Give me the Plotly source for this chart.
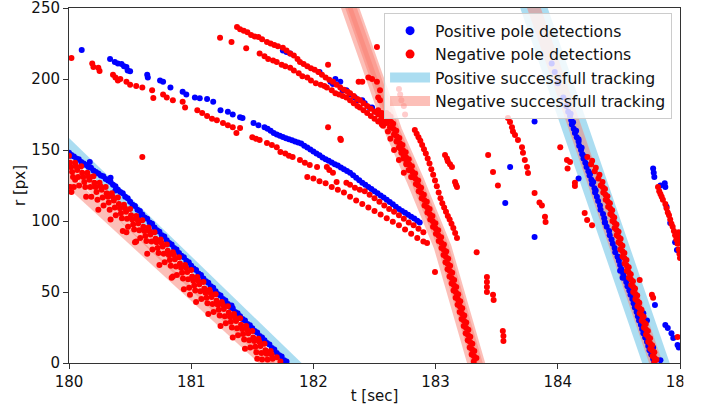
import plotly.graph_objects as go

# ---------------- data (t [sec], r [px]) ----------------
pos_left_track = [
    (180.00,148),(180.02,146.5),(180.04,145.5),(180.06,144),(180.08,143.5),(180.10,141.5),(180.12,140.5),
    (180.14,139.5),(180.16,138),(180.18,137.5),(180.20,135.5),(180.22,134.5),(180.24,133.5),(180.26,132),
    (180.28,131.5),(180.30,129.5),(180.32,128.5),(180.34,127.5),(180.36,125.5),(180.38,124.5),(180.40,122),
    (180.42,120.5),(180.44,119.5),(180.46,117),(180.48,116),(180.50,113.5),(180.52,111.5),(180.54,110.5),
    (180.56,108),(180.58,107),(180.60,104.5),(180.62,102.5),(180.64,101.5),(180.66,99),(180.68,98),
    (180.70,95.5),(180.72,93.5),(180.74,92.5),(180.76,90),(180.78,89),(180.80,86.5),(180.82,84.5),
    (180.84,83.5),(180.86,81),(180.88,80),(180.90,77.5),(180.92,75.5),(180.94,74.5),(180.96,72),(180.98,71),
    (181.00,68.5),(181.02,66.5),(181.04,65.5),(181.06,63),(181.08,62),(181.10,59.5),(181.12,57.5),
    (181.14,56.5),(181.16,54),(181.18,53),(181.20,50.5),(181.22,48.5),(181.24,47.5),(181.26,45),(181.28,44),
    (181.30,41.5),(181.32,39.5),(181.34,38.5),(181.36,36),(181.38,35),(181.40,33),(181.42,31),(181.44,30),
    (181.46,27.5),(181.48,26.5),(181.50,24.5),(181.52,22.5),(181.54,21.5),(181.56,19),(181.58,18),
    (181.60,16),(181.62,14),(181.64,13),(181.66,10.5),(181.68,9.5),(181.70,7),(181.72,5.5),(181.74,4.5),
    (181.76,2),(181.78,1),
    (180.17,141.5),(180.34,130.5),(180.38,121.5),(180.57,103),(180.01,146),(181.33,40.5),(180.104,220.4),
]
pos_mid_arc = [
    (180.336,214),(180.375,212),(180.40,211),(180.43,210.5),(180.45,209),(180.47,208.5),(180.48,206),
    (180.50,205.5),(180.64,203),(180.645,201),(180.745,199),(180.77,198),(180.83,194),(180.93,191),
    (180.96,189),(181.03,187),(181.07,186.5),(181.13,186),(181.18,184),(181.24,178),(181.30,177),
    (181.34,175),(181.40,173),(181.42,172.5),(181.51,169),(181.55,167.5),
    (181.600,166),(181.625,165),(181.650,163.5),(181.675,162),(181.700,161),(181.725,160),(181.750,159.2),
    (181.775,158.3),(181.800,157.5),(181.825,156.8),(181.850,156),(181.875,155.3),(181.900,154.5),
    (181.925,153),(181.950,151.8),(181.975,150.3),(182.000,149),(182.025,147.6),(182.050,146.3),
    (182.075,144.8),(182.100,143.5),(182.125,142.4),(182.150,141.2),(182.175,140),(182.200,139),
    (182.225,137.7),(182.250,136.5),(182.275,135.2),(182.300,134),(182.325,132.2),(182.350,130.5),
    (182.375,128.7),(182.400,127),(182.425,125.5),(182.450,124),(182.475,122.5),(182.500,121),
    (182.525,119.5),(182.550,118),(182.575,116.5),(182.600,115),(182.625,113.4),(182.650,111.8),
    (182.675,110.1),(182.700,108.5),(182.725,107.1),(182.750,105.8),(182.775,104.4),(182.800,103),
    (182.825,101.8),(182.850,100.2),(182.870,99),
]
pos_upper_arc = [
    (181.75,220),(181.78,219),(181.81,218),(182.05,205),(182.14,198),(182.16,196.5),(182.18,200),
    (182.22,198),(182.24,192),(182.27,192),(182.30,189),(182.34,187),(182.36,185),(182.40,185),
    (182.42,183),(182.46,180),(182.48,180),(182.51,177),
]
pos_right_track = [
    (183.95,211),(183.975,205),(184.00,197),(184.045,187),(184.07,181),(184.085,177),(184.10,174),
    (184.11,171),(184.115,168),(184.13,165),(184.14,162),(184.155,159),(184.17,156),(184.175,153),
    (184.19,150),(184.20,147),(184.21,144),(184.225,141),(184.235,138),(184.25,135),(184.26,132),
    (184.275,129),(184.28,126),(184.30,123),(184.305,120),(184.32,117),(184.33,114),(184.345,111),
    (184.35,108),(184.37,105),(184.38,102),(184.385,99),(184.40,96),(184.42,93),(184.425,90),(184.44,87),
    (184.45,84),(184.465,81),(184.47,78),(184.49,75),(184.50,72),(184.51,69),(184.52,66),(184.535,63),
    (184.545,60),(184.56,57),(184.57,54),(184.585,51),(184.595,48),(184.61,45),(184.62,42),(184.63,39),
    (184.645,36),(184.655,33),(184.665,30),(184.68,27),(184.69,24),(184.70,21),(184.715,18),(184.73,15),
    (184.74,12),(184.75,9),(184.765,6),(184.78,3),(184.79,1),
    (184.105,175.5),(184.125,169.5),(184.15,163.5),(184.17,157.5),(184.195,151.5),(184.22,145.5),
    (184.24,139.5),(184.265,133.5),(184.29,127.5),(184.31,121.5),
    (184.386,99),(184.49,74.6),(184.51,65),(184.53,60),(184.70,35),(184.73,30),(184.78,11),(184.84,2),
]
pos_scattered = [
    (183.81,170),(183.61,138),(183.57,112.7),(183.81,88.7),(184.17,130),
    (184.78,137),(184.785,134),(184.79,131),(184.84,125),(184.875,126.5),(184.88,124),(184.89,110),
    (184.92,98.6),(184.96,85),(184.975,79.6),(184.795,40.8),(184.88,26.8),(184.90,24.6),(184.93,21),
    (184.945,17.6),(184.99,11),(184.98,12.7),
]

neg_left_track = [
    (180.00,146),(180.05,141),(180.10,138.5),(180.15,134),(180.20,131.5),(180.25,127),(180.30,124),
    (180.35,119.5),(180.40,116.5),(180.45,111.5),(180.50,108.5),(180.55,103.5),(180.60,100.5),(180.65,95.5),
    (180.70,92),(180.75,87),(180.80,83.5),(180.85,78),(180.90,74.5),(180.95,69),(181.00,65.5),(181.05,60.5),
    (181.10,57),(181.15,51.5),(181.20,48.5),(181.25,43),(181.30,40),(181.35,34.5),(181.40,31.5),(181.45,26),
    (181.50,22.5),(181.55,17),(181.60,13.5),(181.65,8.5),(181.70,4),(181.73,1),
    (180.017,138),(180.067,136),(180.117,131),(180.167,129),(180.217,124),(180.267,122),(180.317,117),
    (180.367,114.5),(180.417,109),(180.467,106.5),(180.517,101),(180.567,98.5),(180.617,93),(180.667,90.5),
    (180.717,85),(180.767,82),(180.817,76),(180.867,73),(180.917,67),(180.967,64),(181.017,58),(181.067,55.5),
    (181.117,49.5),(181.167,46.5),(181.217,41),(181.267,38),(181.317,32.5),(181.367,29.5),(181.417,24),
    (181.467,21),(181.517,15.5),(181.567,12),(181.617,6.5),(181.667,3),
    (180.033,131),(180.083,125),(180.133,124),(180.183,117),(180.233,115),(180.283,111),(180.333,108),
    (180.383,104),(180.433,102),(180.483,96),(180.533,94),(180.583,88),(180.633,86),(180.683,80),
    (180.733,77.5),(180.783,71),(180.833,68.5),(180.883,62),(180.933,59.5),(180.983,53),(181.033,51),
    (181.083,45),(181.133,42),(181.183,36),(181.233,33.5),(181.283,28),(181.333,25),(181.383,19.5),
    (181.433,16.5),(181.483,11),(181.533,7.5),(181.58,2.5),
    (180.008,141),(180.058,138.5),(180.108,134),(180.158,131.5),(180.208,127),(180.258,124.5),(180.308,119.5),
    (180.358,117),(180.408,112),(180.458,109),(180.508,104),(180.558,101),(180.608,96),(180.658,93),
    (180.708,87.5),(180.758,84.5),(180.808,79),(180.858,76),(180.908,70),(180.958,67),(181.008,61),
    (181.058,58),(181.108,52.5),(181.158,49.5),(181.208,44),(181.258,41),(181.308,35.5),(181.358,32),
    (181.408,27),(181.458,23.5),(181.508,18),(181.558,15),(181.608,9),(181.658,6),
    (180.025,134.5),(180.075,131),(180.125,127.5),(180.175,124),(180.225,120.5),(180.275,116.5),
    (180.325,113),(180.375,109.5),(180.425,105.5),(180.475,101.5),(180.525,97.5),(180.575,93.5),
    (180.625,89.5),(180.675,85.5),(180.725,81),(180.775,77),(180.825,72.5),(180.875,68),(180.925,63.5),
    (180.975,59),(181.025,54.5),(181.075,50.5),(181.125,46),(181.175,41.5),(181.225,37.5),(181.275,33),
    (181.325,29),(181.375,24.5),(181.425,20.5),(181.475,16),(181.525,11.5),(181.575,7),(181.625,2.5),
    (180.04,124),(180.14,117),(180.24,108),(180.34,101),(180.44,93),(180.54,85),(180.64,77),(180.74,69),
    (180.84,60),(180.94,52),(181.04,43),(181.14,34.5),(181.24,26),(181.34,18),(181.44,10),(181.54,3),
    (180.01,124),(180.02,120.5),(180.05,129),(180.47,92),(180.55,85.5),(180.85,61),(180.99,48),
    (180.02,214.8),(180.60,145),
]
neg_upper_arcs = [
    (181.375,236.6),(181.40,235),(181.43,234),(181.46,233),(181.49,231),(181.52,230),(181.55,229.5),
    (181.58,228),(181.62,226),(181.65,225),(181.68,224),(181.71,223),(181.75,222),(181.78,220),(181.81,218),
    (181.84,216.5),(181.87,214),(181.89,212),(181.92,210.5),(181.95,209),(181.98,207.5),(182.01,206.5),
    (182.04,205),(182.07,203),(182.10,201),(182.13,199.5),(182.16,198),(182.19,196),(182.22,194),
    (182.25,192.5),(182.28,191),(182.30,190),(182.33,188),(182.36,186),(182.38,185),(182.41,183),
    (182.44,181),(182.47,179),(182.50,177),(182.53,175),(182.56,173),(182.59,171),
    (181.56,218),(181.60,216),(181.63,214),(181.67,213),(181.70,212),(181.74,210),(181.77,209),(181.81,208),
    (181.84,206),(181.88,204),(181.91,202),(181.95,201),(181.98,199),(182.02,197),(182.06,196),(182.09,195),
    (182.11,194),(182.15,192),(182.18,190),(182.21,189),(182.24,188),(182.27,187),(182.30,185),(182.33,183),
    (182.36,181),(182.38,180),(182.41,178),(182.44,176),(182.47,174),(182.50,172),(182.53,170),(182.56,168),
    (181.236,229),(181.33,226),(181.45,221.6),(182.12,210),(182.37,198),(182.40,198),(182.52,222.5),
    (182.45,201),(182.48,200),(182.52,198),(182.545,192),(182.53,187),(182.545,185),
    (182.70,193),(182.71,189),(182.72,185),(182.74,181),(182.75,175),
]
neg_mid_arcs = [
    (180.19,211),(180.20,208.5),(180.24,208),(180.25,205.6),(180.36,203),(180.38,201),(180.40,199),
    (180.42,200),(180.47,198),(180.50,196),(180.55,195),(180.60,194),(180.68,192),(180.69,186.6),
    (180.77,189),(180.80,187),(180.85,185),(180.93,184),(180.95,180),(181.05,178),(181.09,176),(181.13,174),
    (181.17,172),(181.21,171),(181.26,169),(181.30,167.5),(181.34,166),(181.37,162),(181.40,165.5),
    (181.50,159),(181.53,158),(181.56,157),(181.62,155),(181.66,153.5),(181.70,152),(181.73,148.6),
    (181.77,147.5),(181.80,146),(181.83,145),(181.89,143),(181.93,141),(181.97,139.5),(182.03,138),
    (182.11,138),(182.13,136),(182.16,134),(182.19,127.5),(182.27,127),(182.30,125.5),(182.34,123.5),
    (182.38,122),(182.42,121),(182.46,118.5),(182.50,116),(182.54,113.5),(182.58,111),(182.62,108.5),
    (182.66,106.5),(182.70,104),(182.74,101.5),(182.78,99),(182.82,97),(182.86,94.5),(182.90,92),
    (181.95,131),(182.00,130),(182.05,128),(182.10,126.5),(182.15,124),(182.20,122),(182.25,120),
    (182.30,117),(182.35,114.5),(182.40,112),(182.45,109.5),(182.50,107),(182.55,104.5),(182.60,102),
    (182.65,99.5),(182.70,97),(182.75,94),(182.80,91),(182.85,88),(182.90,85.5),(182.93,84.5),
    (182.12,166),(182.22,158),(182.225,157),
]
neg_mid_track = [
    (182.598,176),(182.632,173.5),(182.619,171),(182.653,168.5),(182.627,166),(182.678,163.5),
    (182.663,161),(182.703,158.5),(182.686,156),(182.729,153.5),(182.712,151),(182.755,148.5),
    (182.738,146),(182.780,143.5),(182.763,141),(182.806,138.5),(182.789,136),(182.832,133.5),
    (182.815,131),(182.857,128.5),(182.839,126),(182.881,123.5),(182.862,121),(182.904,118.5),
    (182.886,116),(182.928,113.5),(182.909,111),(182.951,108.5),(182.933,106),(182.974,103.5),
    (182.956,101),(182.998,98.5),(182.979,96),(183.021,93.5),(183.003,91),(183.045,88.5),
    (183.026,86),(183.068,83.5),(183.048,81),(183.087,78.5),(183.065,76),(183.103,73.5),
    (183.081,71),(183.119,68.5),(183.098,66),(183.136,63.5),(183.114,61),(183.152,58.5),
    (183.131,56),(183.169,53.5),(183.147,51),(183.185,48.5),(183.164,46),(183.202,43.5),
    (183.180,41),(183.218,38.5),(183.197,36),(183.235,33.5),(183.213,31),(183.251,28.5),
    (183.230,26),(183.268,23.5),(183.246,21),(183.284,18.5),(183.263,16),(183.301,13.5),
    (183.279,11),(183.317,8.5),(183.295,6),(183.334,3.5),(183.312,1),
    (182.615,174.75),(182.636,169.75),(182.657,164.75),(182.682,159.75),(182.708,154.75),(182.733,149.75),
    (182.759,144.75),(182.785,139.75),(182.810,134.75),(182.836,129.75),(182.860,124.75),(182.883,119.75),
    (182.907,114.75),(182.930,109.75),(182.953,104.75),(182.977,99.75),(183.000,94.75),(183.024,89.75),
    (183.047,84.75),(183.067,79.75),(183.084,74.75),(183.100,69.75),(183.117,64.75),(183.133,59.75),
    (183.150,54.75),(183.166,49.75),(183.183,44.75),(183.199,39.75),(183.216,34.75),(183.232,29.75),
    (183.249,24.75),(183.265,19.75),(183.282,14.75),(183.298,9.75),(183.314,4.75),
    (182.53,178),(182.56,176),(182.58,174),(182.55,171),(182.60,169),(182.62,172),(182.57,167),
    (182.64,166),(182.61,163),(182.66,161),(182.63,158),(182.68,156),(182.70,152),(182.66,150),
    (182.72,148),(182.74,144),(182.70,143),(182.76,140),(182.78,136),(182.74,134),(182.80,131),
]
neg_streaks = [
    (182.83,164),(182.845,161.5),(182.86,159),(182.875,156.5),(182.89,153.5),(182.905,150.5),(182.92,147.5),
    (182.935,144),(182.95,140.5),(182.965,136.5),(182.98,132.5),(182.995,128.5),(183.01,124.5),(183.025,120),
    (183.04,116),(183.055,112.5),(183.07,109.5),(183.085,106.5),(183.10,103.5),(183.115,101),(183.13,98),
    (183.145,95),(183.16,91.5),(183.175,88),
    (183.077,146.5),(183.093,144),(183.10,142),(183.118,140),(183.134,138),(183.159,127.5),(183.167,125.5),
    (183.175,124),
    (183.592,172.5),(183.609,169.7),(183.625,166),(183.633,163),(183.65,160.6),(183.674,157),(183.707,152),
    (183.715,148),(183.73,143),(183.748,138),(183.756,133.8),
]
neg_right_track = [
    (184.242,145),(184.281,142.5),(184.272,140),(184.311,137.5),(184.302,135),(184.341,132.5),(184.332,130),
    (184.366,127.5),(184.352,125),(184.386,122.5),(184.372,120),(184.406,117.5),(184.392,115),(184.426,112.5),
    (184.412,110),(184.445,107.5),(184.430,105),(184.462,102.5),(184.447,100),(184.480,97.5),(184.465,95),
    (184.497,92.5),(184.482,90),(184.514,87.5),(184.497,85),(184.529,82.5),(184.512,80),(184.545,77.5),
    (184.530,75),(184.562,72.5),(184.547,70),(184.580,67.5),(184.565,65),(184.597,62.5),(184.582,60),
    (184.615,57.5),(184.600,55),(184.632,52.5),(184.617,50),(184.650,47.5),(184.635,45),(184.667,42.5),
    (184.652,40),(184.685,37.5),(184.670,35),(184.702,32.5),(184.687,30),(184.720,27.5),(184.705,25),
    (184.737,22.5),(184.722,20),(184.755,17.5),(184.740,15),(184.772,12.5),(184.757,10),(184.790,7.5),
    (184.775,5),(184.807,2.5),(184.790,0.5),
    (184.369,123.75),(184.389,118.75),(184.409,113.75),(184.429,108.75),(184.446,103.75),(184.464,98.75),
    (184.481,93.75),(184.498,88.75),(184.513,83.75),(184.529,78.75),(184.546,73.75),(184.563,68.75),
    (184.581,63.75),(184.598,58.75),(184.616,53.75),(184.633,48.75),(184.651,43.75),(184.668,38.75),
    (184.686,33.75),(184.703,28.75),(184.721,23.75),(184.738,18.75),(184.756,13.75),(184.773,8.75),
    (184.790,3.75),
]
neg_scattered = [
    (183.43,146.5),(183.47,134.5),(183.51,125),(183.81,119.7),(183.85,113),(183.87,111),(183.895,103),
    (183.90,99.3),(183.336,78),(182.995,64),(183.42,60.5),(183.42,57),(183.42,53.5),(183.42,50),(183.47,48),
    (183.475,44.4),(183.55,22.5),(183.555,19),(183.555,15.5),
    (184.22,105.6),(184.24,100.7),(184.28,97),(184.02,152),(184.075,143),(184.10,141.5),(184.08,137),
    (184.14,127),(184.14,124.6),(184.67,58.5),(184.77,48),(184.78,46),(184.98,18.3),
    (184.82,124),(184.83,121),(184.84,119),(184.85,117),(184.86,115),(184.88,112),(184.89,109),(184.90,106),
    (184.91,104),(184.92,101),(184.93,98),(184.94,96),(184.95,93),(184.96,90),(184.97,87),(184.98,84),
    (184.99,80),(184.995,77),(185.0,74),(184.985,88),(184.995,85),(184.99,92),(184.995,90),
]

# tracking bands: centre lines (t, r)
band_pos_left_t = [179.9, 182.0]
band_pos_left_r = [161.3, -13.4]
band_neg_left_t = [[179.9, 181.8], [179.9, 181.75]]
band_neg_left_r = [[148.3, -10.0], [135.9, -10.3]]
band_neg_mid_t = [
    [182.212, 182.273, 182.625, 182.805, 183.030, 183.304, 183.338],
    [182.247, 182.308, 182.660, 182.840, 183.065, 183.339, 183.373],
    [182.267, 182.328, 182.680, 182.860, 183.085, 183.359, 183.393],
]
band_neg_mid_r = [265, 250, 164, 128.9, 81.7, 0, -10]
band_right_t = [183.725, 184.843]
band_right_r = [270, -10]

labels = ["Positive pole detections", "Negative pole detections",
          "Positive successfull tracking", "Negative successfull tracking"]
x_ticks = [180, 181, 182, 183, 184, 185]
y_ticks = [0, 50, 100, 150, 200, 250]

# ---------------- figure ----------------
BLUE_BAND = "rgba(135,206,235,0.7)"
RED_BAND = "rgba(250,128,114,0.5)"
MS = 6

fig = go.Figure()

def band(t, r, color, width):
    fig.add_trace(go.Scatter(x=t, y=r, mode="lines", line=dict(color=color, width=width),
                             showlegend=False, hoverinfo="skip"))

band(band_pos_left_t, band_pos_left_r, BLUE_BAND, 11)
band(band_right_t, band_right_r, BLUE_BAND, 26)
for t, r in zip(band_neg_left_t, band_neg_left_r):
    band(t, r, RED_BAND, 11)
for t in band_neg_mid_t:
    band(t, band_neg_mid_r, RED_BAND, 11)
band(band_right_t, band_right_r, RED_BAND, 13)

pos = pos_left_track + pos_mid_arc + pos_upper_arc + pos_right_track + pos_scattered
neg = neg_left_track + neg_upper_arcs + neg_mid_arcs + neg_mid_track + neg_streaks + neg_right_track + neg_scattered

fig.add_trace(go.Scatter(x=[p[0] for p in pos], y=[p[1] for p in pos], mode="markers",
                         marker=dict(color="#0000ff", size=MS, line=dict(width=0)), showlegend=False))
fig.add_trace(go.Scatter(x=[p[0] for p in neg], y=[p[1] for p in neg], mode="markers",
                         marker=dict(color="#ff0000", size=MS, line=dict(width=0)), showlegend=False))

# legend entries
fig.add_trace(go.Scatter(x=[None], y=[None], mode="markers", marker=dict(color="#0000ff", size=9),
                         name=labels[0], legendrank=1))
fig.add_trace(go.Scatter(x=[None], y=[None], mode="markers", marker=dict(color="#ff0000", size=9),
                         name=labels[1], legendrank=2))
fig.add_trace(go.Scatter(x=[None], y=[None], mode="lines", line=dict(color=BLUE_BAND, width=15),
                         name=labels[2], legendrank=3))
fig.add_trace(go.Scatter(x=[None], y=[None], mode="lines", line=dict(color=RED_BAND, width=15),
                         name=labels[3], legendrank=4))

axis_common = dict(ticks="outside", ticklen=5, tickwidth=1, tickcolor="#333", showline=True,
                   linecolor="#333", linewidth=1, mirror=True, showgrid=False, zeroline=False,
                   automargin=False, ticklabeloverflow="allow", tickfont=dict(size=15, color="#111"))
fig.update_layout(
    width=710, height=411,
    margin=dict(l=69, r=30, t=8, b=48, autoexpand=False),
    paper_bgcolor="white", plot_bgcolor="white",
    font=dict(family="DejaVu Sans", size=15, color="#111"),
    xaxis=dict(range=[180, 185], tickvals=x_ticks, title=dict(text="t [sec]", standoff=0,
               font=dict(size=15)), **axis_common),
    yaxis=dict(range=[0, 250], tickvals=y_ticks, title=dict(text="r [px]", standoff=2,
               font=dict(size=15)), **axis_common),
    legend=dict(x=0.987, y=0.986, xanchor="right", yanchor="top", bgcolor="rgba(255,255,255,0.8)",
                bordercolor="#cccccc", borderwidth=1, font=dict(size=15.7, color="#111"),
                itemwidth=40),
    showlegend=True,
    shapes=[dict(type="rect", xref="paper", yref="paper", x0=1.0057, x1=1.1, y0=-0.2, y1=1.1,
                 fillcolor="white", line=dict(width=0), layer="above")],
)

fig.write_html("out.html", config={"displayModeBar": False},
               post_script="document.body.style.margin='0';")
